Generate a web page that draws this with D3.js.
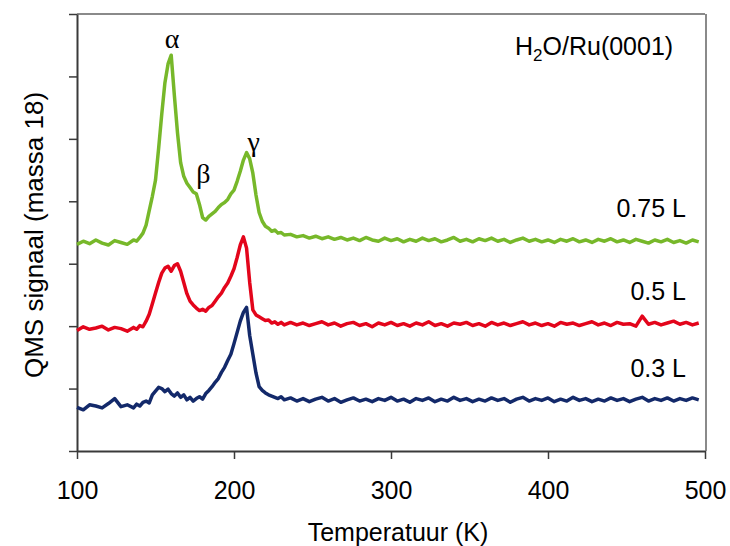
<!DOCTYPE html>
<html><head><meta charset="utf-8">
<script src="https://cdn.jsdelivr.net/npm/d3@7"></script>
<style>
html,body{margin:0;padding:0;background:#fff;}
svg{display:block;font-family:"Liberation Sans",Arial,sans-serif;}
</style></head>
<body><svg id="chart" width="730" height="546"></svg>
<script>
// Temperature (K) sample points
const temps = [
 100,104,108,112,116,120,124,128,132,136,
 138,140,142,144,146,148,150,152,154,156,
 158,160,162,164,166,168,170,172,174,176,
 178,180,182,184,186,188,190,192,194,196,
 198,200,202,204,206,208,210,212,214,216,
 218,220,222,224,226,228,230,232,
 236,240,244,248,252,256,260,264,268,272,
 276,280,284,288,292,296,300,304,308,312,
 316,320,324,328,332,336,340,344,348,352,
 356,360,364,368,372,376,380,384,388,392,
 396,400,404,408,412,416,420,424,428,432,
 436,440,444,448,452,456,460,464,468,472,
 476,480,484,488,492,496
];
// QMS signal (arbitrary units, offset per dose)
const dose075 = [
 3.31,3.36,3.32,3.38,3.33,3.30,3.37,3.34,3.31,3.38,
 3.36,3.42,3.49,3.62,3.85,4.08,4.34,4.85,5.40,5.90,
 6.20,6.34,5.70,5.10,4.62,4.40,4.29,4.22,4.15,4.12,
 3.95,3.74,3.70,3.76,3.80,3.84,3.90,3.95,3.98,4.03,
 4.12,4.18,4.32,4.48,4.66,4.78,4.68,4.45,4.10,3.82,
 3.68,3.60,3.57,3.52,3.54,3.49,3.50,3.46,
 3.47,3.43,3.45,3.41,3.44,3.40,3.43,3.39,3.42,3.38,
 3.41,3.37,3.42,3.38,3.36,3.41,3.37,3.40,3.35,3.39,
 3.36,3.41,3.37,3.40,3.35,3.38,3.42,3.36,3.39,3.35,
 3.40,3.37,3.41,3.36,3.39,3.34,3.38,3.41,3.36,3.39,
 3.35,3.38,3.34,3.39,3.36,3.40,3.35,3.38,3.34,3.39,
 3.36,3.40,3.35,3.38,3.34,3.39,3.36,3.33,3.38,3.35,
 3.39,3.34,3.37,3.33,3.38,3.35
];
const dose05 = [
 1.93,1.99,1.95,1.97,2.00,1.94,1.98,1.96,1.92,1.98,
 1.95,2.01,1.99,2.08,2.19,2.36,2.53,2.70,2.85,2.93,
 2.96,2.88,2.97,3.00,2.88,2.70,2.52,2.40,2.34,2.29,
 2.25,2.27,2.24,2.30,2.33,2.40,2.47,2.53,2.62,2.69,
 2.80,2.92,3.10,3.30,3.43,3.25,2.70,2.26,2.18,2.15,
 2.12,2.09,2.10,2.05,2.07,2.03,2.06,2.02,
 2.06,2.02,2.05,2.01,2.04,2.07,2.02,2.05,2.00,2.04,
 2.06,2.01,2.04,1.99,2.05,2.02,2.06,2.01,2.04,2.00,
 2.05,2.02,2.07,2.01,2.04,2.00,2.05,2.03,2.06,2.01,
 2.04,2.00,2.06,2.02,2.05,2.01,2.04,2.07,2.02,2.05,
 2.01,2.04,2.00,2.06,2.03,2.05,2.01,2.04,2.07,2.02,
 2.05,2.01,2.06,2.03,2.04,2.00,2.16,2.03,2.06,2.02,
 2.05,2.08,2.03,2.06,2.02,2.05
];
const dose03 = [
 0.70,0.66,0.74,0.72,0.69,0.76,0.84,0.71,0.74,0.69,
 0.75,0.72,0.78,0.80,0.77,0.90,0.96,1.02,1.00,0.95,
 0.99,0.92,0.88,0.93,0.86,0.90,0.82,0.86,0.80,0.84,
 0.87,0.83,0.92,0.97,1.03,1.10,1.16,1.26,1.34,1.45,
 1.55,1.72,1.90,2.08,2.22,2.30,1.85,1.55,1.25,1.03,
 0.97,0.93,0.90,0.88,0.86,0.84,0.87,0.82,
 0.85,0.80,0.84,0.79,0.83,0.86,0.80,0.84,0.78,0.82,
 0.85,0.80,0.83,0.79,0.84,0.81,0.86,0.80,0.83,0.78,
 0.84,0.81,0.85,0.79,0.83,0.80,0.86,0.81,0.84,0.79,
 0.83,0.80,0.85,0.81,0.84,0.78,0.83,0.86,0.80,0.84,
 0.81,0.85,0.79,0.83,0.80,0.86,0.81,0.84,0.79,0.83,
 0.80,0.85,0.81,0.84,0.79,0.83,0.86,0.80,0.84,0.81,
 0.85,0.80,0.84,0.81,0.85,0.82
];
const seriesNames = ["0.75 L","0.5 L","0.3 L"];
const seriesColors = ["#77b82a","#e3051b","#13296a"];
const xTicks = [100,200,300,400,500];
const yTicks = [0,1,2,3,4,5,6,7];
const peakLabels = ["α","β","γ"];
const peakTemps = [160.5,180.5,212.5];
const peakValues = [6.45,4.3,4.8];
const labelValues = [3.75,2.42,1.18];

const svg = d3.select("#chart");
const x = d3.scaleLinear().domain([100,500]).range([77,705]);
const y = d3.scaleLinear().domain([0,7]).range([451,14]);

// frame (top / right) in grey
svg.append("line").attr("x1",x(100)).attr("x2",x(500)).attr("y1",y(7)).attr("y2",y(7))
  .attr("stroke","#8a8a8a").attr("stroke-width",2);
svg.append("line").attr("x1",x(500)+1).attr("x2",x(500)+1).attr("y1",y(7)).attr("y2",y(0))
  .attr("stroke","#8a8a8a").attr("stroke-width",2);

// y axis
const gy = svg.append("g").attr("transform",`translate(${x(100)},0)`)
  .call(d3.axisLeft(y).tickValues(yTicks).tickFormat("").tickSizeInner(8).tickSizeOuter(0));
gy.select(".domain").attr("stroke","#3a3a3a").attr("stroke-width",2);
gy.selectAll(".tick line").attr("stroke","#3a3a3a").attr("stroke-width",1.5);

// x axis
const gx = svg.append("g").attr("transform",`translate(0,${y(0)})`)
  .call(d3.axisBottom(x).tickValues(xTicks).tickFormat(d3.format("d")).tickSizeInner(8).tickSizeOuter(0));
gx.select(".domain").attr("stroke","#3a3a3a").attr("stroke-width",2);
gx.selectAll(".tick line").attr("stroke","#3a3a3a").attr("stroke-width",1.5);
gx.selectAll(".tick text").attr("y",48).attr("dy",null)
  .attr("font-size",25).attr("font-family","Liberation Sans, Arial, sans-serif").attr("fill","#000");

// lines
const allSeries = [dose075,dose05,dose03];
const line = d3.line().x((d,i)=>x(temps[i])).y(d=>y(d));
allSeries.forEach((s,k)=>{
  svg.append("path").datum(s).attr("d",line)
    .attr("fill","none").attr("stroke",seriesColors[k]).attr("stroke-width",3.5)
    .attr("stroke-linejoin","round");
});

// series labels
seriesNames.forEach((n,k)=>{
  svg.append("text").attr("x",686).attr("y",y(labelValues[k]))
    .attr("text-anchor","end").attr("font-size",25).text(n);
});

// peak labels
peakLabels.forEach((p,k)=>{
  svg.append("text").attr("x",x(peakTemps[k])).attr("y",y(peakValues[k]))
    .attr("text-anchor","middle").attr("font-size",28)
    .attr("font-family","Liberation Serif, Times New Roman, serif").text(p);
});

// title annotation
const t = svg.append("text").attr("x",515).attr("y",55).attr("font-size",25);
t.append("tspan").text("H");
t.append("tspan").attr("font-size",17).attr("dy",6).text("2");
t.append("tspan").attr("dy",-6).text("O/Ru(0001)");

// axis titles
svg.append("text").attr("x",398).attr("y",541).attr("text-anchor","middle")
  .attr("font-size",25).text("Temperatuur (K)");
svg.append("text").attr("transform","translate(43,235) rotate(-90)").attr("text-anchor","middle")
  .attr("font-size",26).text("QMS signaal (massa 18)");
</script>
</body></html>
